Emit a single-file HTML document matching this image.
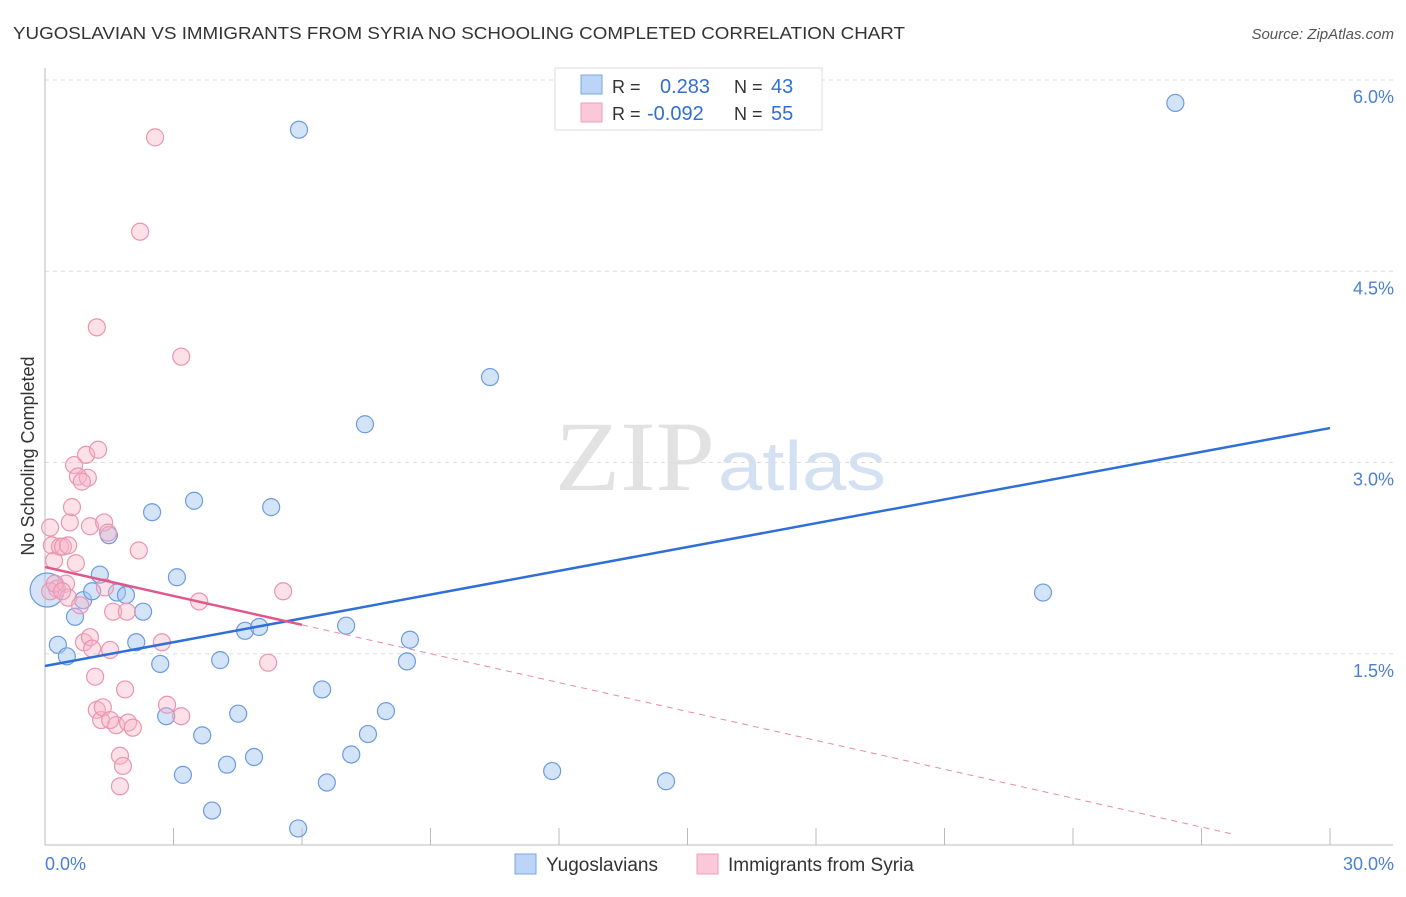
<!DOCTYPE html>
<html><head><meta charset="utf-8"><style>
body{margin:0;background:#fff;font-family:"Liberation Sans",sans-serif}
</style></head><body>
<svg id="c" width="1406" height="892" xmlns="http://www.w3.org/2000/svg" font-family="Liberation Sans, sans-serif">
<text x="13" y="39" font-size="17.5" fill="#333" textLength="892" lengthAdjust="spacingAndGlyphs">YUGOSLAVIAN VS IMMIGRANTS FROM SYRIA NO SCHOOLING COMPLETED CORRELATION CHART</text>
<text x="1394" y="39" font-size="15" fill="#555" font-style="italic" text-anchor="end">Source: ZipAtlas.com</text>
<text x="555" y="490" font-size="100" fill="#e2e2e2" font-family="Liberation Serif, serif" textLength="160" lengthAdjust="spacingAndGlyphs">ZIP</text>
<text x="718" y="490" font-size="70" fill="#d3e1f3" textLength="168" lengthAdjust="spacingAndGlyphs">atlas</text>
<g id="grid"></g><g id="axes"></g><g id="pts"></g><g id="lines"></g>
<text transform="translate(34,456) rotate(-90)" font-size="18" fill="#333" text-anchor="middle">No Schooling Completed</text>
<text x="45" y="870" font-size="18" fill="#4a7fd4">0.0%</text>
<text x="1394" y="870" font-size="18" fill="#4a7fd4" text-anchor="end">30.0%</text>
<g>
<rect x="555" y="68" width="267" height="62" fill="#fff" stroke="#ddd"/>
<rect x="581" y="75" width="21" height="19" fill="#bcd4f5" stroke="#7aa6e3"/>
<rect x="581" y="103" width="21" height="19" fill="#fac8d8" stroke="#eea0b8"/>
<text x="612" y="93" font-size="18" fill="#333">R = </text><text x="660" y="93" font-size="20" fill="#2f6fd6">0.283</text>
<text x="734" y="93" font-size="18" fill="#333">N = </text><text x="771" y="93" font-size="20" fill="#2f6fd6">43</text>
<text x="612" y="120" font-size="18" fill="#333">R = </text><text x="647" y="120" font-size="20" fill="#2f6fd6">-0.092</text>
<text x="734" y="120" font-size="18" fill="#333">N = </text><text x="771" y="120" font-size="20" fill="#2f6fd6">55</text>
</g>
<g>
<rect x="515" y="854" width="21" height="20" fill="#bcd4f5" stroke="#7aa6e3"/>
<text x="546" y="871" font-size="19" fill="#333">Yugoslavians</text>
<rect x="697" y="854" width="21" height="20" fill="#fac8d8" stroke="#eea0b8"/>
<text x="728" y="871" font-size="19" fill="#333">Immigrants from Syria</text>
</g>
</svg>
<script>
const yTicks=[1.5,3.0,4.5,6.0];
const yTickLabels=["1.5%","3.0%","4.5%","6.0%"];
const xTicks=[3,6,9,12,15,18,21,24,27,30];
const blueX=[0.05,0.30,0.51,0.70,0.89,1.10,1.28,1.49,1.68,1.89,2.13,2.29,2.50,2.69,2.83,3.08,3.22,3.48,3.67,3.90,4.09,4.25,4.51,4.67,4.88,5.00,5.28,5.91,5.93,6.47,6.58,7.03,7.15,7.47,7.54,7.96,8.45,8.52,10.39,11.84,14.50,23.30,26.39];
const blueY=[2.00,1.57,1.48,1.79,1.92,1.99,2.12,2.43,1.98,1.96,1.59,1.83,2.61,1.42,1.01,2.10,0.55,2.70,0.86,0.27,1.45,0.63,1.03,1.68,0.69,1.71,2.65,0.13,5.61,1.22,0.49,1.72,0.71,3.30,0.87,1.05,1.44,1.61,3.67,0.58,0.50,1.98,5.82];
const pinkX=[0.12,0.16,0.21,0.28,0.35,0.42,0.49,0.54,0.58,0.63,0.68,0.72,0.77,0.82,0.91,0.96,1.00,1.05,1.05,1.17,1.21,1.24,1.21,1.31,1.35,1.38,1.40,1.47,1.52,1.59,1.66,1.75,1.82,1.75,1.87,1.91,1.94,2.05,2.19,2.22,2.57,2.73,2.85,3.18,3.18,3.60,5.21,5.56,0.12,0.23,0.40,0.54,0.86,1.10,1.52];
const pinkY=[2.49,2.35,2.23,2.01,2.34,2.34,2.05,1.94,2.53,2.65,2.98,2.21,2.89,1.88,1.59,3.06,2.88,2.50,1.63,1.32,4.06,3.10,1.06,0.98,1.08,2.53,2.02,2.45,1.53,1.83,0.94,0.70,0.62,0.46,1.22,1.83,0.96,0.92,2.31,4.81,5.55,1.59,1.10,3.83,1.01,1.91,1.43,1.99,1.99,2.05,1.99,2.35,2.85,1.54,0.98];
const blueTrend=[1.404,3.27];
const pinkTrend=[2.18,-0.086];
const pinkSolidEnd=6.0;
const NS="http://www.w3.org/2000/svg";
const X=v=>45+v/30*1285, Y=v=>845-v/6*765;
function mk(t,a,p){const e=document.createElementNS(NS,t);for(const k in a)e.setAttribute(k,a[k]);document.getElementById(p).appendChild(e);return e;}
yTicks.forEach((t,i)=>{
 const g=mk('line',{x1:45,x2:1393,y1:Y(t),y2:Y(t),stroke:'#ddd','stroke-dasharray':'4,4'},'grid');
 
 
 const l=mk('text',{x:1394,y:Y(t)+23,'font-size':18,fill:'#4a7fd4','text-anchor':'end'},'grid');
 l.textContent=yTickLabels[i];
 
 
});
const ya=mk('line',{x1:45,x2:45,y1:68,y2:845,stroke:'#bbb'},'axes');


const xa=mk('line',{x1:45,x2:1393,y1:845,y2:845,stroke:'#bbb'},'axes');


xTicks.forEach(t=>{const e=mk('line',{x1:X(t),x2:X(t),y1:828,y2:845,stroke:'#bbb'},'axes');
 
 });
blueX.forEach((v,i)=>{const e=mk('circle',{cx:X(v),cy:Y(blueY[i]),r:i===0?17:8.5,fill:'rgba(160,195,240,0.45)',stroke:'#6c9be0','stroke-width':1.2},'pts');
 
 });
pinkX.forEach((v,i)=>{const e=mk('circle',{cx:X(v),cy:Y(pinkY[i]),r:8.5,fill:'rgba(248,180,200,0.4)',stroke:'#ec94b0','stroke-width':1.2},'pts');
 
 });
const bl=mk('line',{x1:X(0),y1:Y(blueTrend[0]),x2:X(30),y2:Y(blueTrend[1]),stroke:'#2f6fd6','stroke-width':2.5},'lines');


const pv=x=>pinkTrend[0]+(pinkTrend[1]-pinkTrend[0])*x/30;
const ps=mk('line',{x1:X(0),y1:Y(pv(0)),x2:X(pinkSolidEnd),y2:Y(pv(pinkSolidEnd)),stroke:'#e0588a','stroke-width':2.5},'lines');


const xe=27.7;
const pd=mk('line',{x1:X(pinkSolidEnd),y1:Y(pv(pinkSolidEnd)),x2:X(xe),y2:Y(pv(xe)),stroke:'#e88aaa','stroke-width':1,'stroke-dasharray':'6,5'},'lines');


</script>
</body></html>
